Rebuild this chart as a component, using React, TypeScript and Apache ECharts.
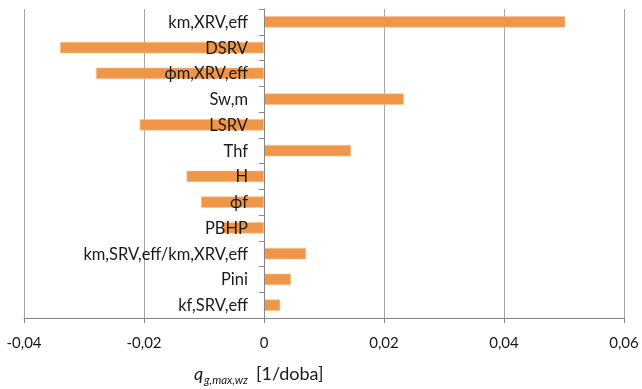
import React, { useEffect, useRef } from "react";
import * as echarts from "echarts";

const categories = [
  "km,XRV,eff",
  "DSRV",
  "ϕm,XRV,eff",
  "Sw,m",
  "LSRV",
  "Thf",
  "H",
  "ϕf",
  "PBHP",
  "km,SRV,eff/km,XRV,eff",
  "Pini",
  "kf,SRV,eff",
];
const values = [0.0502, -0.034, -0.028, 0.0233, -0.0207, 0.0145, -0.0129, -0.0105, -0.007, 0.007, 0.0045, 0.0027];
const xMin = -0.04;
const xMax = 0.06;
const xStep = 0.02;

const FONT = "Lato, 'Open Sans', sans-serif";
const GRID_LEFT = 24;
const GRID_RIGHT = 18;
const PLOT_W = 642 - GRID_LEFT - GRID_RIGHT;
const zeroOffset = ((0 - xMin) / (xMax - xMin)) * PLOT_W;

export default function App() {
  const ref = useRef<HTMLDivElement>(null);
  useEffect(() => {
    if (!ref.current) return;
    const chart = echarts.init(ref.current, undefined, { renderer: "svg" });
    chart.setOption({
      animation: false,
      grid: { left: GRID_LEFT, right: GRID_RIGHT, top: 9, bottom: 71, containLabel: false, outerBoundsMode: "none" },
      xAxis: {
        type: "value",
        min: xMin,
        max: xMax,
        interval: xStep,
        axisLine: { show: true, lineStyle: { color: "#868686", width: 1 } },
        axisTick: { show: true, length: 5, lineStyle: { color: "#868686" } },
        splitLine: { show: true, lineStyle: { color: "#A6A6A6", width: 1 } },
        axisLabel: {
          color: "#1a1a1a",
          fontSize: 15,
          fontFamily: FONT,
          margin: 16,
          formatter: (v: number) => Number(v.toFixed(2)).toString().replace(".", ","),
        },
      },
      yAxis: {
        type: "category",
        data: categories,
        inverse: true,
        z: 5,
        offset: -zeroOffset,
        axisLine: { show: true, onZero: false, lineStyle: { color: "#868686" } },
        axisTick: { show: true, length: 5, inside: false, lineStyle: { color: "#868686" } },
        axisLabel: { color: "#1a1a1a", fontSize: 16.5, fontFamily: FONT, margin: 16 },
      },
      series: [
        {
          type: "bar",
          data: values,
          barWidth: "44%",
          itemStyle: { color: "#F09648", borderColor: "#F7C49A", borderWidth: 0.6 },
        },
      ],
      graphic: [
        {
          type: "group",
          left: 194,
          top: 364,
          children: [
            { type: "text", x: 0, y: 0, style: { text: "q", fontSize: 18, fontStyle: "italic", fontFamily: FONT, fill: "#1a1a1a" } },
            { type: "text", x: 10, y: 9, style: { text: "g,max,wz", fontSize: 11.5, fontStyle: "italic", fontFamily: FONT, fill: "#1a1a1a" } },
            { type: "text", x: 62, y: 0, style: { text: "[1/doba]", fontSize: 18, fontFamily: FONT, fill: "#1a1a1a" } },
          ],
        },
      ],
    });
    return () => chart.dispose();
  }, []);
  return <div ref={ref} style={{ position: "fixed", left: 0, top: 0, width: 642, height: 389 }} />;
}
